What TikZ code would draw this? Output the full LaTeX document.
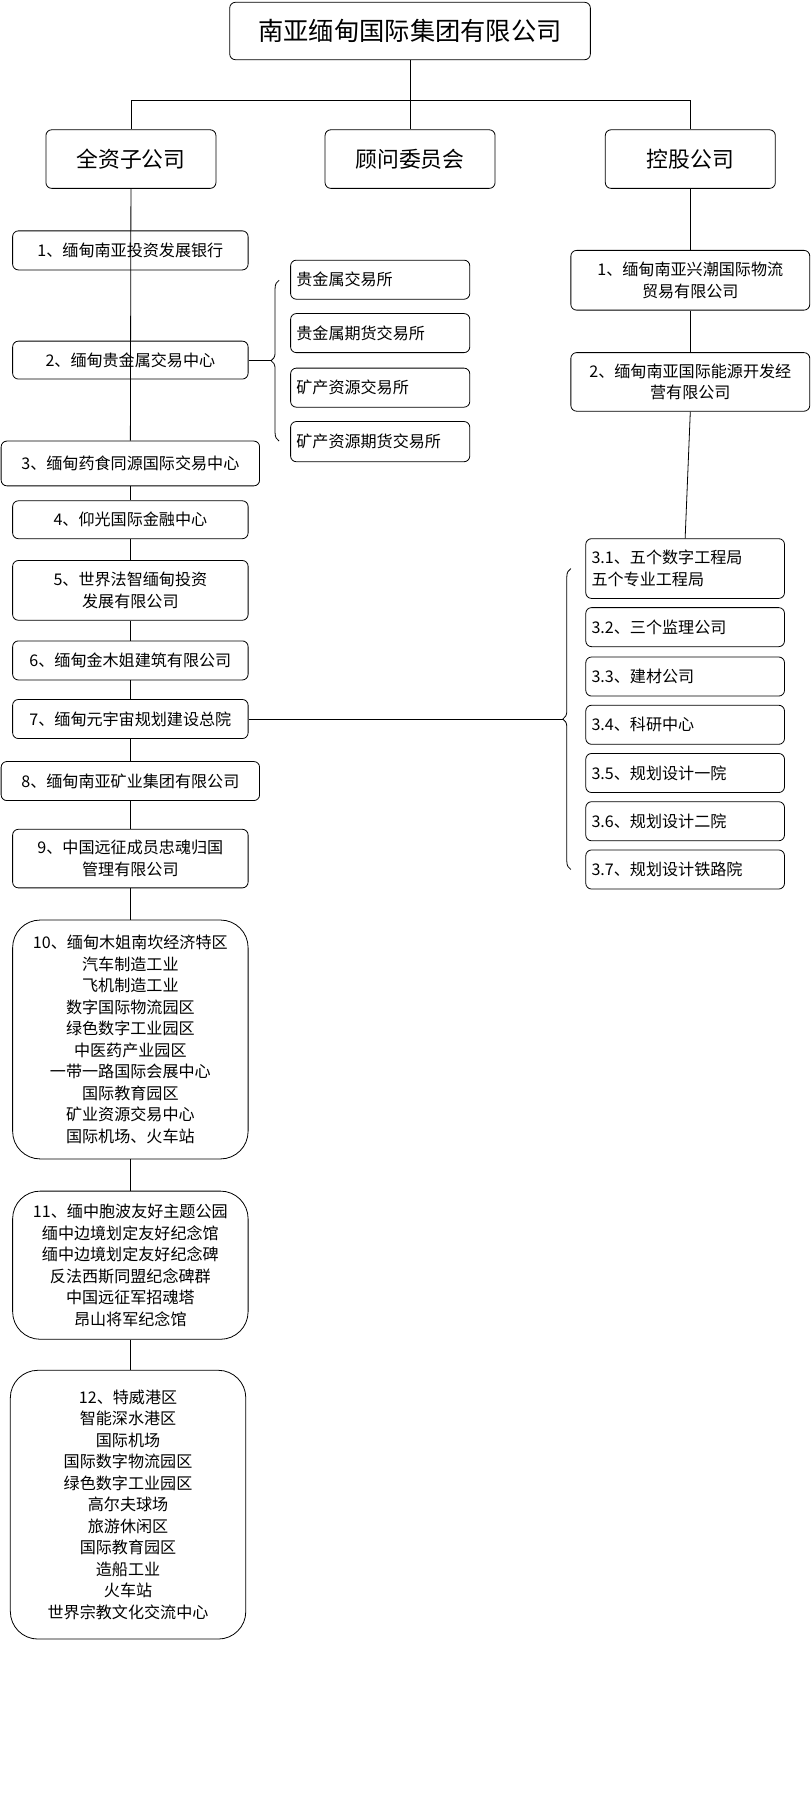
\documentclass[tikz,border=0pt]{standalone}
\usepackage{fontspec}
\setmainfont{Noto Sans CJK SC}
\usetikzlibrary{positioning,decorations.pathreplacing}

\tikzset{
  box/.style={draw, rounded corners=5pt, fill=white, font=\fontsize{14}{18.7}\selectfont, align=center, inner sep=1pt},
  leftbox/.style={box, align=left, text width=#1, inner sep=5pt},
  bigbox/.style={box, rounded corners=24pt},
  brace/.style={decorate, decoration={brace, amplitude=7pt}}
}

\begin{document}
\begin{tikzpicture}[x=1pt, y=-1pt, line width=0.7pt]
\useasboundingbox (0,0) rectangle (706,1568);
% top levels
\node[box, minimum width=314, minimum height=50, font=\fontsize{22}{26}\selectfont] (group) at (357,27) {南亚缅甸国际集团有限公司};
\node[box, minimum width=148, minimum height=51, font=\fontsize{19}{23}\selectfont] (whole) at (114,138.5) {全资子公司};
\node[box, minimum width=148, minimum height=51, font=\fontsize{19}{23}\selectfont] (advice) at (357,138.5) {顾问委员会};
\node[box, minimum width=148, minimum height=51, font=\fontsize{19}{23}\selectfont] (hold) at (601,138.5) {控股公司};
\draw (group.south) -- (357,87) coordinate (split);
\draw (split) -- (advice.north);
\draw (split) -| (whole.north);
\draw (split) -| (hold.north);

% wholly owned
\node[box, minimum width=205, minimum height=34] (w1) at (113.5,218) {1、缅甸南亚投资发展银行};
\node[box, minimum width=205, minimum height=33] (w2) at (113.5,313.5) {2、缅甸贵金属交易中心};
\node[box, minimum width=225, minimum height=39] (w3) at (113.5,403.5) {3、缅甸药食同源国际交易中心};
\node[box, minimum width=205, minimum height=33] (w4) at (113.5,452.5) {4、仰光国际金融中心};
\node[box, minimum width=205, minimum height=52] (w5) at (113.5,514) {5、世界法智缅甸投资\\发展有限公司};
\node[box, minimum width=205, minimum height=34] (w6) at (113.5,575) {6、缅甸金木姐建筑有限公司};
\node[box, minimum width=205, minimum height=34] (w7) at (113.5,626) {7、缅甸元宇宙规划建设总院};
\node[box, minimum width=225, minimum height=34] (w8) at (113.5,680) {8、缅甸南亚矿业集团有限公司};
\node[box, minimum width=205, minimum height=51] (w9) at (113.5,747.5) {9、中国远征成员忠魂归国\\管理有限公司};
\node[bigbox, minimum width=205, minimum height=208] (w10) at (113.5,905) {10、缅甸木姐南坎经济特区\\汽车制造工业\\飞机制造工业\\数字国际物流园区\\绿色数字工业园区\\中医药产业园区\\一带一路国际会展中心\\国际教育园区\\矿业资源交易中心\\国际机场、火车站};
\node[bigbox, minimum width=205, minimum height=129] (w11) at (113.5,1101.5) {11、缅中胞波友好主题公园\\缅中边境划定友好纪念馆\\缅中边境划定友好纪念碑\\反法西斯同盟纪念碑群\\中国远征军招魂塔\\昂山将军纪念馆};
\node[bigbox, minimum width=205, minimum height=234] (w12) at (111.5,1310) {12、特威港区\\智能深水港区\\国际机场\\国际数字物流园区\\绿色数字工业园区\\高尔夫球场\\旅游休闲区\\国际教育园区\\造船工业\\火车站\\世界宗教文化交流中心};
\draw (whole.south) -- (w3.north);
\foreach \a/\b in {w3/w4, w4/w5, w5/w6, w6/w7, w7/w8, w8/w9, w9/w10, w10/w11}
  \draw (\a.south) -- (\b.north);
\draw (w11.south) -- (w11.south |- w12.north);

% exchanges
\node[leftbox=146pt, minimum height=34] (x1) at (331,243.5) {贵金属交易所};
\node[leftbox=146pt, minimum height=34] (x2) at (331,290) {贵金属期货交易所};
\node[leftbox=146pt, minimum height=34] (x3) at (331,337.5) {矿产资源交易所};
\node[leftbox=146pt, minimum height=35] (x4) at (331,384.5) {矿产资源期货交易所};
\coordinate (xtop) at (243,244);
\coordinate (xbot) at (243,384);
\draw[brace] (xbot) -- (xtop);
\draw (w2.east) -- (236,313.5);

% holdings
\node[box, minimum width=208, minimum height=52] (h1) at (601,244) {1、缅甸南亚兴潮国际物流\\贸易有限公司};
\node[box, minimum width=208, minimum height=51] (h2) at (601,332.5) {2、缅甸南亚国际能源开发经\\营有限公司};
\node[leftbox=163pt, minimum height=52] (s1) at (596.5,495) {3.1、五个数字工程局\\五个专业工程局};
\node[leftbox=163pt, minimum height=34] (s2) at (596.5,546) {3.2、三个监理公司};
\node[leftbox=163pt, minimum height=34] (s3) at (596.5,589) {3.3、建材公司};
\node[leftbox=163pt, minimum height=34] (s4) at (596.5,631) {3.4、科研中心};
\node[leftbox=163pt, minimum height=34] (s5) at (596.5,673) {3.5、规划设计一院};
\node[leftbox=163pt, minimum height=34] (s6) at (596.5,715) {3.6、规划设计二院};
\node[leftbox=163pt, minimum height=34] (s7) at (596.5,757) {3.7、规划设计铁路院};
\draw (hold.south) -- (h1.north);
\draw (h1.south) -- (h2.north);
\draw (h2.south) -- (s1.north);
\coordinate (stop) at (497,495);
\coordinate (sbot) at (497,757);
\draw[brace] (sbot) -- (stop);
\draw (w7.east) -- (490,626);
\end{tikzpicture}
\end{document}
